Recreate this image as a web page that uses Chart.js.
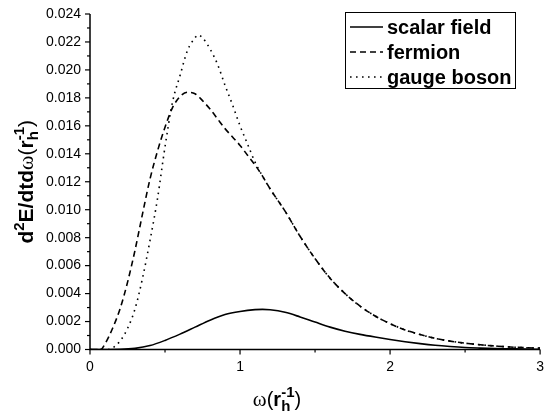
<!DOCTYPE html>
<html><head><meta charset="utf-8">
<script src="https://cdn.jsdelivr.net/npm/chart.js@4.4.1/dist/chart.umd.min.js"></script>
<style>html,body{margin:0;padding:0;background:#fff;overflow:hidden}#wrap{width:548px;height:413px}</style>
</head><body><div id="wrap"><canvas id="c" width="548" height="413" style="width:548px;height:413px"></canvas></div>
<script>
const seriesLabels = ['scalar field', 'fermion', 'gauge boson'];

const omegaScalar = [0,0.1,0.2,0.3,0.4,0.5,0.6,0.7,0.8,0.9,1.0,1.1,1.15,1.2,1.3,1.4,1.5,1.6,1.7,1.8,1.9,2.0,2.1,2.2,2.3,2.4,2.5,2.6,2.7,2.8,2.9,3.0];
const scalarValues = [0,0,0.00001,0.00008,0.00028,0.00065,0.0011,0.0016,0.0021,0.0025,0.00272,0.00285,0.00287,0.00284,0.00266,0.00233,0.00196,0.0016,0.00131,0.00108,0.00089,0.00072,0.00056,0.00042,0.0003,0.00021,0.00014,0.0001,0.00007,0.00005,0.00003,0.00002];

const omegaFermion = [0,0.07,0.1,0.15,0.2,0.25,0.3,0.35,0.4,0.45,0.5,0.55,0.6,0.65,0.7,0.75,0.8,0.85,0.9,0.95,1.0,1.05,1.1,1.15,1.2,1.3,1.4,1.5,1.6,1.7,1.8,1.9,2.0,2.1,2.2,2.3,2.4,2.5,2.6,2.7,2.8,2.9,3.0];
const fermionValues = [0,0,0.0004,0.0015,0.0029,0.0048,0.0071,0.0097,0.0122,0.0142,0.0159,0.0173,0.0181,0.0184,0.0183,0.0178,0.0172,0.0165,0.0158,0.0152,0.0146,0.0139,0.0132,0.0124,0.0115,0.0099,0.0081,0.0065,0.0051,0.0040,0.0031,0.0024,0.00185,0.0014,0.00107,0.0008,0.0006,0.00045,0.00034,0.00025,0.00018,0.00013,0.0001];

const omegaGauge = [0,0.12,0.15,0.2,0.25,0.3,0.35,0.4,0.45,0.5,0.55,0.6,0.65,0.7,0.72,0.75,0.8,0.85,0.9,0.95,1.0,1.05,1.1,1.15,1.2,1.3,1.4,1.5,1.6,1.7,1.8,1.9,2.0,2.1,2.2,2.3,2.4,2.5,2.6,2.7,2.8,2.9,3.0];
const gaugeValues = [0,0,0.0001,0.0006,0.0015,0.0029,0.0051,0.0078,0.0108,0.0145,0.0177,0.0196,0.0214,0.0223,0.0225,0.0223,0.0215,0.0204,0.0189,0.0175,0.0160,0.0147,0.0134,0.0124,0.0115,0.0099,0.0081,0.0065,0.0051,0.0040,0.0031,0.0024,0.00185,0.0014,0.00107,0.0008,0.0006,0.00045,0.00034,0.00025,0.00018,0.00013,0.0001];

const xTickValues = [0, 1, 2, 3];
const yMax = 0.024;

function pts(xs, ys) { return xs.map((x, i) => ({x: x, y: ys[i]})); }

const SANS = '"Liberation Sans", Arial, sans-serif';
const SERIF = '"Liberation Serif", "Times New Roman", serif';

function drawRich(ctx, segs, x, y) {
  let cx = x;
  for (const s of segs) {
    if (s.stack) {
      let w = 0;
      for (const p of s.stack) { ctx.font = p.font; ctx.fillText(p.t, cx, y + p.dy); w = Math.max(w, ctx.measureText(p.t).width); }
      cx += w;
    } else {
      ctx.font = s.font; ctx.fillText(s.t, cx, y + s.dy); cx += ctx.measureText(s.t).width;
    }
  }
  return cx - x;
}
function richWidth(ctx, segs) {
  let w = 0;
  for (const s of segs) {
    if (s.stack) { let m = 0; for (const p of s.stack) { ctx.font = p.font; m = Math.max(m, ctx.measureText(p.t).width); } w += m; }
    else { ctx.font = s.font; w += ctx.measureText(s.t).width; }
  }
  return w;
}

const decor = {
  id: 'decor',
  afterDraw(chart) {
    const ctx = chart.ctx, a = chart.chartArea;
    const xs = chart.scales.x, ys = chart.scales.y;
    ctx.save();
    ctx.strokeStyle = '#000'; ctx.fillStyle = '#000';
    ctx.lineWidth = 1.5;
    ctx.beginPath();
    ctx.moveTo(a.left, a.top); ctx.lineTo(a.left, a.bottom); ctx.lineTo(a.right, a.bottom);
    ctx.stroke();
    ctx.lineWidth = 1.2;
    for (let i = 0; i <= 24; i++) {
      const py = ys.getPixelForValue(i * 0.001);
      const len = (i % 2 === 0) ? 5 : 3;
      ctx.beginPath(); ctx.moveTo(a.left - len, py); ctx.lineTo(a.left, py); ctx.stroke();
    }
    for (let i = 0; i <= 6; i++) {
      const px = xs.getPixelForValue(i * 0.5);
      const len = (i % 2 === 0) ? 5 : 3;
      ctx.beginPath(); ctx.moveTo(px, a.bottom); ctx.lineTo(px, a.bottom + len); ctx.stroke();
    }
    ctx.textBaseline = 'alphabetic'; ctx.textAlign = 'left';
    const B = 'bold 20px ' + SANS, Bs = 'bold 15px ' + SANS, R = '20px ' + SANS, W = '21px ' + SERIF;
    const xt = [
      {t: 'ω', font: W, dy: 0}, {t: '(', font: R, dy: 0}, {t: 'r', font: B, dy: 0},
      {stack: [{t: '-1', font: Bs, dy: -9}, {t: 'h', font: Bs, dy: 5}]},
      {t: ')', font: R, dy: 0}
    ];
    const xw = richWidth(ctx, xt);
    drawRich(ctx, xt, 277 - xw / 2, 406);
    const Yb = 'bold 21px ' + SANS, Ys = 'bold 15px ' + SANS, Yr = '21px ' + SANS, Yw = '22px ' + SERIF;
    const yt = [
      {t: 'd', font: Yb, dy: 0}, {t: '2', font: Ys, dy: -9}, {t: 'E/dtd', font: Yb, dy: 0},
      {t: 'ω', font: Yw, dy: 0}, {t: '(', font: Yr, dy: 0}, {t: 'r', font: Yb, dy: 0},
      {stack: [{t: '-1', font: Ys, dy: -9}, {t: 'h', font: Ys, dy: 5}]},
      {t: ')', font: Yr, dy: 0}
    ];
    const yw = richWidth(ctx, yt);
    ctx.save();
    ctx.translate(33, (a.top + a.bottom) / 2);
    ctx.rotate(-Math.PI / 2);
    drawRich(ctx, yt, -yw / 2, 0);
    ctx.restore();
    const lx = 345, ly = 12, lw = 515 - 345, lh = 88 - 12;
    ctx.lineWidth = 1; ctx.strokeStyle = '#000';
    ctx.strokeRect(lx + 0.5, ly + 0.5, lw, lh);
    ctx.font = 'bold 20px ' + SANS; ctx.textBaseline = 'middle';
    chart.data.datasets.forEach((ds, i) => {
      const ry = 27 + i * 25;
      ctx.save();
      ctx.lineWidth = ds.borderWidth; ctx.setLineDash(ds.borderDash || []);
      ctx.beginPath(); ctx.moveTo(350, ry); ctx.lineTo(383, ry); ctx.stroke();
      ctx.restore();
      ctx.fillText(ds.label, 387, ry + 1);
    });
    ctx.restore();
  }
};

new Chart(document.getElementById('c'), {
  type: 'line',
  data: {
    datasets: [
      {label: seriesLabels[0], data: pts(omegaScalar, scalarValues), borderColor: '#000', borderWidth: 1.6, borderDash: [], pointRadius: 0, cubicInterpolationMode: 'monotone', fill: false},
      {label: seriesLabels[1], data: pts(omegaFermion, fermionValues), borderColor: '#000', borderWidth: 1.6, borderDash: [6, 4], pointRadius: 0, cubicInterpolationMode: 'monotone', fill: false},
      {label: seriesLabels[2], data: pts(omegaGauge, gaugeValues), borderColor: '#000', borderWidth: 1.6, borderDash: [1.6, 4.4], pointRadius: 0, cubicInterpolationMode: 'monotone', fill: false}
    ]
  },
  options: {
    responsive: false, animation: false, devicePixelRatio: 1,
    layout: {padding: {left: 0, right: 5, top: 14, bottom: 0}},
    plugins: {legend: {display: false}, tooltip: {enabled: false}},
    scales: {
      x: {
        type: 'linear', min: 0, max: 3,
        afterBuildTicks: (s) => { s.ticks = xTickValues.map(v => ({value: v})); },
        afterFit: (s) => { s.height = 63.5; },
        grid: {display: false, drawTicks: true, tickLength: 5},
        border: {display: false},
        ticks: {color: '#000', padding: 4, maxRotation: 0, font: {family: SANS, size: 14}, callback: (v) => String(v)}
      },
      y: {
        min: 0, max: yMax,
        afterFit: (s) => { s.width = 90; },
        grid: {display: false, drawTicks: true, tickLength: 5},
        border: {display: false},
        ticks: {color: '#000', padding: 4, stepSize: 0.002, font: {family: SANS, size: 14}, callback: (v) => v.toFixed(3)}
      }
    }
  },
  plugins: [decor]
});
</script>
</body></html>
